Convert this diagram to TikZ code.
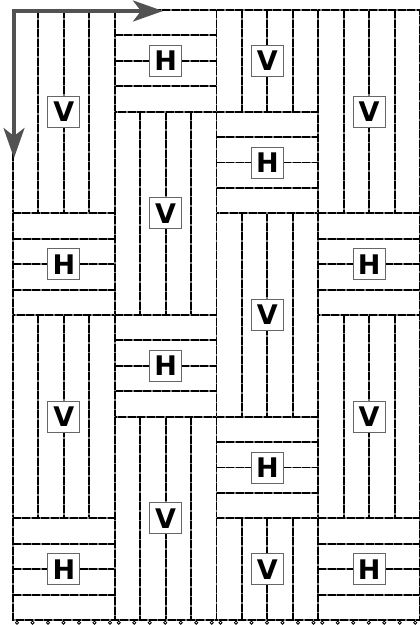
\documentclass[tikz,border=0pt]{standalone}
\usepackage{fontspec}
\setmainfont{DejaVu Sans}
\usetikzlibrary{arrows.meta}
\newcommand\vblk[3]{%
  \pgfmathsetmacro\xa{13+#1*101.75}\pgfmathsetmacro\xb{\xa+101.75}%
  \pgfmathsetmacro\ya{10+#2*101.667}\pgfmathsetmacro\yb{10+#3*101.667}%
  \foreach \k in {1,2,3}{%
    \draw[stripbg] ({\xa+\k*25.4375},\ya) -- ({\xa+\k*25.4375},\yb);
    \draw[strip] ({\xa+\k*25.4375},\ya) -- ({\xa+\k*25.4375},\yb);}
  \draw[stripbg] (\xa,\ya) rectangle (\xb,\yb);
  \draw[strip] (\xa,\ya) rectangle (\xb,\yb);
  \node[lab] (v#1#2) at ({(\xa+\xb)/2},{(\ya+\yb)/2}) {V};}
\newcommand\hblk[3]{%
  \pgfmathsetmacro\xa{13+#1*101.75}\pgfmathsetmacro\xb{\xa+101.75}%
  \pgfmathsetmacro\ya{10+#2*101.667}\pgfmathsetmacro\yb{10+#3*101.667}%
  \pgfmathsetmacro\hh{(\yb-\ya)/4}%
  \foreach \k in {1,2,3}{%
    \draw[stripbg] (\xa,{\ya+\k*\hh}) -- (\xb,{\ya+\k*\hh});
    \draw[strip] (\xa,{\ya+\k*\hh}) -- (\xb,{\ya+\k*\hh});}
  \draw[stripbg] (\xa,\ya) rectangle (\xb,\yb);
  \draw[strip] (\xa,\ya) rectangle (\xb,\yb);
  \node[lab] (h#1#2) at ({(\xa+\xb)/2},{(\ya+\yb)/2}) {H};}
\begin{document}
\begin{tikzpicture}[x=1pt,y=-1pt,
  strip/.style={draw=black, line width=1.9pt, dash pattern=on 8pt off 1.5pt},
  stripbg/.style={draw=black!50, line width=1.9pt},
  lab/.style={draw=black!60, line width=0.8pt, fill=white, minimum width=32pt, minimum height=31pt, inner sep=0pt,
    font=\fontsize{27}{27}\selectfont\bfseries},
  axis/.style={draw=black!68, line width=3.5pt, -{Stealth[length=30pt,width=21pt,inset=8pt]}},
  nail/.style={draw=black, line width=0.8pt, fill=white}]
\useasboundingbox (0,0) rectangle (420,625);
\fill[white] (0,0) rectangle (420,625);
% nails along the bottom
\foreach \c in {0,1,2,3}{\foreach \k in {0,...,6}{
  \draw[nail] ({13+\c*101.75+4+\k*15.5},622.7) circle (1.6pt);}}
% column 0
\vblk{0}{0}{2}
\hblk{0}{2}{3}
\vblk{0}{3}{5}
\hblk{0}{5}{6}
% column 1
\hblk{1}{0}{1}
\vblk{1}{1}{3}
\hblk{1}{3}{4}
\vblk{1}{4}{6}
% column 2
\vblk{2}{0}{1}
\hblk{2}{1}{2}
\vblk{2}{2}{4}
\hblk{2}{4}{5}
\vblk{2}{5}{6}
% column 3
\vblk{3}{0}{2}
\hblk{3}{2}{3}
\vblk{3}{3}{5}
\hblk{3}{5}{6}
% axes
\coordinate (ox) at (12.25,11);
\coordinate (oy) at (14,9.25);
\coordinate (ax) at (163,11);
\coordinate (ay) at (14,158);
\draw[axis] (ox) -- (ax);
\draw[axis] (oy) -- (ay);
\end{tikzpicture}
\end{document}
